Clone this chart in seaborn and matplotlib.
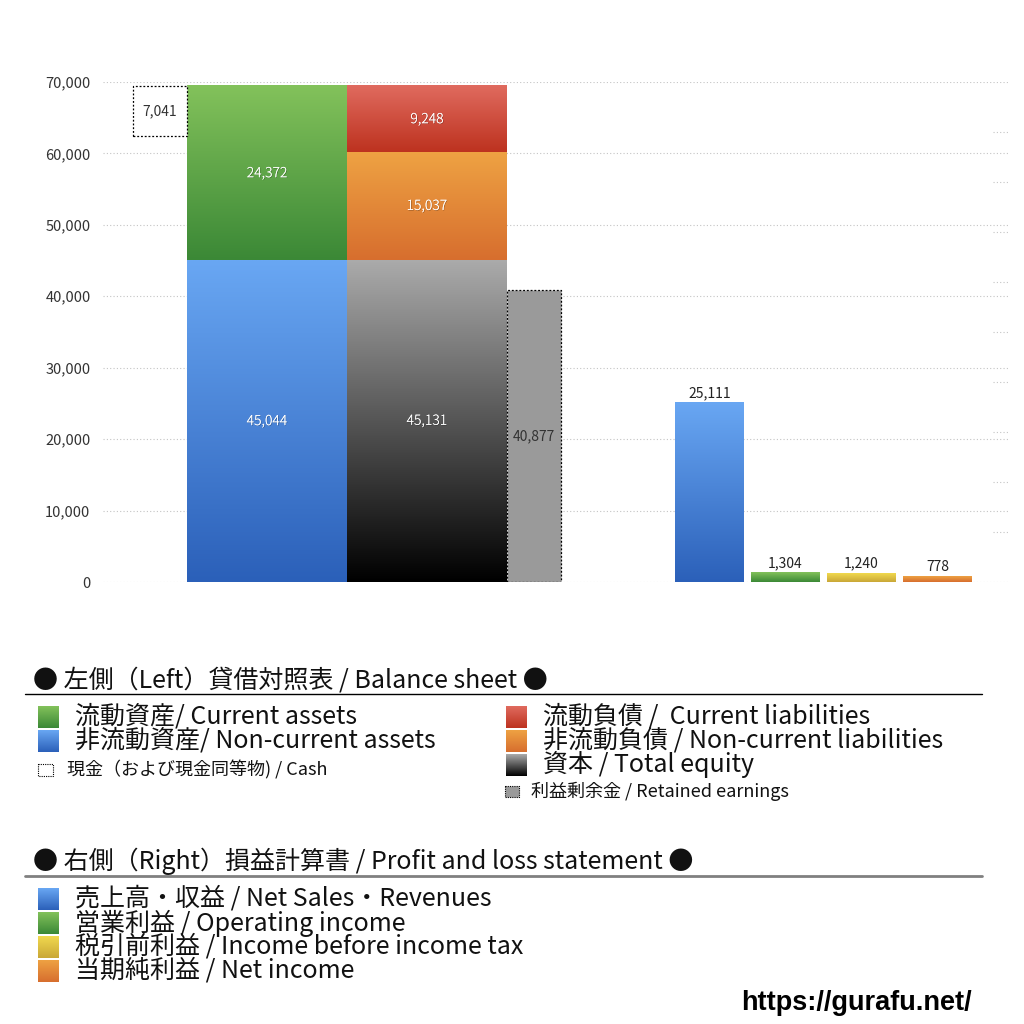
import numpy as np
import matplotlib
matplotlib.use("Agg")
import matplotlib.pyplot as plt
import matplotlib.patheffects as pe
from matplotlib.colors import LinearSegmentedColormap
from matplotlib.patches import Rectangle
import seaborn as sns

sns.set_style("white")
plt.rcParams['font.family'] = ['Noto Sans CJK JP', 'DejaVu Sans']

# 貸借対照表 / balance sheet
current_assets = 24372
noncurrent_assets = 45044
cash = 7041
current_liab = 9248
noncurrent_liab = 15037
equity = 45131
retained = 40877

# 損益計算書 / P&L
pl_labels = ["売上高・収益", "営業利益", "税引前利益", "当期純利益"]
pl_values = [25111, 1304, 1240, 778]

y_ticks = [0, 10000, 20000, 30000, 40000, 50000, 60000, 70000]

# colours (top, bottom) of the gradients
grad = {
    "green": ("#83c25b", "#3b8836"),
    "blue": ("#69a7f3", "#2b60b9"),
    "red": ("#e06b5f", "#bd321f"),
    "orange": ("#eea243", "#d76e2e"),
    "black": ("#ababab", "#000000"),
    "yellow": ("#f1d94e", "#c9a737"),
}
pl_colors = ["blue", "green", "yellow", "orange"]
re_gray = "#9a9a9a"


def grad_fill(ax, x0, x1, y0, y1, key, z=2):
    top, bottom = grad[key]
    cmap = LinearSegmentedColormap.from_list(key, [bottom, top])
    ax.imshow(np.linspace(0, 1, 256).reshape(-1, 1), extent=[x0, x1, y0, y1],
              origin="lower", cmap=cmap, aspect="auto", zorder=z, interpolation="bilinear")


fig = plt.figure(figsize=(10.24, 10.24), dpi=100)
ax = fig.add_axes([103 / 1024, 1 - 582 / 1024, 905 / 1024, 500 / 1024])

# layout (x in units of the wide bar)
BIG_W = 1.0
SMALL_W = 0.3375
assets_x = 1.025
liab_x = assets_x + BIG_W
cash_x = assets_x - (BIG_W + SMALL_W) / 2
re_x = liab_x + (BIG_W + SMALL_W) / 2
pl_start, pl_step, pl_w = 3.7906, 0.475, 0.431
pl_pos = [pl_start + i * pl_step for i in range(len(pl_values))]

total_assets = current_assets + noncurrent_assets

# stacked balance sheet bars
segments = [
    (assets_x, noncurrent_assets, 0, "blue"),
    (assets_x, current_assets, noncurrent_assets, "green"),
    (liab_x, equity, 0, "black"),
    (liab_x, noncurrent_liab, equity, "orange"),
    (liab_x, current_liab, equity + noncurrent_liab, "red"),
]
shadow = [pe.withSimplePatchShadow(offset=(0.5, -0.5), shadow_rgbFace="black", alpha=0.3), pe.Normal()]
for x, h, b, key in segments:
    ax.bar(x, h, bottom=b, width=BIG_W, color="none", linewidth=0)
    grad_fill(ax, x - BIG_W / 2, x + BIG_W / 2, b, b + h, key)
    ax.text(x, b + h / 2, f"{h:,}", color="white", ha="center", va="center",
            fontsize=10, fontweight="light", zorder=5, path_effects=shadow)

# cash (dotted box to the left of the assets bar)
ax.bar(cash_x, cash, bottom=total_assets - cash, width=SMALL_W, color="white",
       edgecolor="black", linestyle=(0, (1.5, 1.5)), linewidth=0.9, zorder=3)
ax.text(cash_x, total_assets - cash / 2, f"{cash:,}", color="#333333", ha="center",
        va="center", fontsize=10, zorder=5)

# retained earnings
ax.bar(re_x, retained, width=SMALL_W, color=re_gray, edgecolor="black",
       linestyle=(0, (1.5, 1.5)), linewidth=0.9, zorder=3)
ax.text(re_x, retained / 2, f"{retained:,}", color="#333333", ha="center",
        va="center", fontsize=10, zorder=5)

# P&L bars
n0 = len(ax.patches)
sns.barplot(x=pl_pos, y=pl_values, hue=pl_labels, native_scale=True,
            palette=dict(zip(pl_labels, [grad[k][1] for k in pl_colors])),
            width=pl_w / pl_step, legend=False, ax=ax)
for p, key, v in zip(ax.patches[n0:], pl_colors, pl_values):
    x0, w = p.get_x(), p.get_width()
    p.set_facecolor("none")
    p.set_linewidth(0)
    grad_fill(ax, x0, x0 + w, 0, v, key)
    ax.annotate(f"{v:,}", (x0 + w / 2, v), xytext=(0, 2), textcoords="offset points",
                ha="center", va="bottom", fontsize=10, color="#222222", zorder=5)

ax.set_xlim(0, 905 / 160)
ax.set_ylim(0, 70000)
ax.set_yticks(y_ticks)
ax.set_yticklabels([f"{t:,}" for t in y_ticks], fontsize=10.5, color="#333333")
ax.tick_params(axis="y", length=0, pad=9)
ax.set_xticks([])
ax.set_xlabel("")
ax.set_ylabel("")
for s in ax.spines.values():
    s.set_visible(False)
for t in y_ticks:
    ax.axhline(t, color="#c4c4c4", linestyle=(0, (1, 2)), linewidth=0.8, zorder=0)
for t in np.arange(7000, 70000, 7000):
    ax.axhline(t, xmin=0.983, xmax=1.0, color="#c4c4c4", linestyle=(0, (1, 2)),
               linewidth=0.8, zorder=0)

# legend area, in pixel coordinates
lg = fig.add_axes([0, 0, 1, 1], zorder=-1)
lg.set_xlim(0, 1024)
lg.set_ylim(1024, 0)
lg.axis("off")

big = 18
small = 13
ink = "#111111"


def square(x, yc, key, w=21, h=22):
    grad_fill(lg, x, x + w, yc + h / 2, yc - h / 2, key)


lg.text(33, 680, "● 左側（Left）貸借対照表 / Balance sheet ●", fontsize=big, va="center", color=ink)
lg.plot([25, 982], [694, 694], color="black", linewidth=1)

left_rows = [("green", "流動資産/ Current assets", 717),
             ("blue", "非流動資産/ Non-current assets", 741)]
for key, txt, yc in left_rows:
    square(38, yc, key)
    lg.text(75, yc, txt, fontsize=big, va="center", color=ink)
lg.add_patch(Rectangle((38, 764), 15, 12, facecolor="white", edgecolor="black",
                       linestyle=(0, (1, 1)), linewidth=0.8))
lg.text(67, 770, "現金（および現金同等物) / Cash", fontsize=small, va="center", color=ink)

right_rows = [("red", "流動負債 /  Current liabilities", 717),
              ("orange", "非流動負債 / Non-current liabilities", 741),
              ("black", "資本 / Total equity", 765)]
for key, txt, yc in right_rows:
    square(506, yc, key)
    lg.text(543, yc, txt, fontsize=big, va="center", color=ink)
lg.add_patch(Rectangle((505, 786), 14, 11, facecolor=re_gray, edgecolor="black",
                       linestyle=(0, (1, 1)), linewidth=0.8))
lg.text(531, 791, "利益剰余金 / Retained earnings", fontsize=small, va="center", color=ink)

lg.text(33, 861, "● 右側（Right）損益計算書 / Profit and loss statement ●", fontsize=big,
        va="center", color=ink)
lg.plot([25, 982], [876, 876], color="#808080", linewidth=2)

pl_legend = ["売上高・収益 / Net Sales・Revenues", "営業利益 / Operating income",
             "税引前利益 / Income before income tax", "当期純利益 / Net income"]
for i, (key, txt) in enumerate(zip(pl_colors, pl_legend)):
    yc = 899 + 24 * i
    square(38, yc, key)
    lg.text(75, yc, txt, fontsize=big, va="center", color=ink)

lg.text(972, 1003, "https://gurafu.net/", fontsize=19.5, fontweight="bold", ha="right",
        va="center", color="black", family=["Liberation Sans", "DejaVu Sans"])

fig.savefig("out.png", dpi=100)
